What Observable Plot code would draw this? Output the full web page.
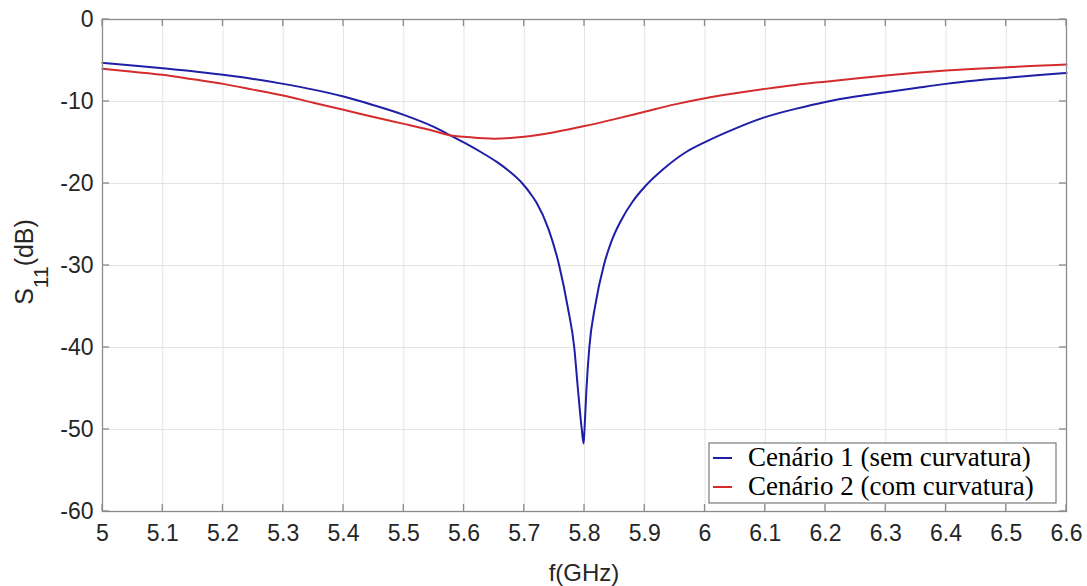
<!DOCTYPE html>
<html><head><meta charset="utf-8">
<script src="https://cdn.jsdelivr.net/npm/d3@7"></script>
<script src="https://cdn.jsdelivr.net/npm/@observablehq/plot@0.6"></script>
<style>body{margin:0;background:#fff} svg{display:block}</style>
</head><body><div id="chart"></div>
<script>
const freq1 = [5.00,5.05,5.10,5.15,5.20,5.25,5.30,5.35,5.40,5.45,5.50,5.55,5.578,5.605,5.63,5.655,5.675,5.697,5.71,5.72,5.74,5.758,5.772,5.783,5.789,5.7955,5.7985,5.800,5.8033,5.808,5.818,5.832,5.845,5.86,5.88,5.90,5.93,5.97,6.00,6.05,6.10,6.15,6.20,6.25,6.30,6.35,6.40,6.45,6.50,6.55,6.60];
const s11_1 = [-5.29,-5.6,-5.94,-6.3,-6.75,-7.25,-7.85,-8.55,-9.4,-10.45,-11.63,-13.1,-14.15,-15.2,-16.25,-17.4,-18.5,-20.0,-21.2,-22.3,-25.5,-30.0,-35.0,-40.0,-45.0,-50.0,-51.7,-50.0,-45.0,-40.0,-34.8,-30.0,-27.0,-24.6,-22.2,-20.4,-18.3,-16.1,-14.95,-13.3,-11.9,-10.9,-10.05,-9.4,-8.87,-8.35,-7.85,-7.45,-7.12,-6.8,-6.51];
const freq2 = [5.00,5.05,5.10,5.15,5.20,5.25,5.30,5.35,5.40,5.45,5.50,5.55,5.578,5.60,5.65,5.70,5.75,5.80,5.85,5.90,5.95,6.00,6.05,6.10,6.15,6.20,6.25,6.30,6.35,6.40,6.45,6.50,6.55,6.60];
const s11_2 = [-6.02,-6.38,-6.75,-7.3,-7.85,-8.55,-9.27,-10.15,-11.0,-11.9,-12.73,-13.6,-14.15,-14.3,-14.55,-14.3,-13.75,-13.0,-12.15,-11.25,-10.35,-9.6,-9.0,-8.46,-7.98,-7.58,-7.2,-6.83,-6.5,-6.22,-6.0,-5.82,-5.65,-5.49];
const xTicks = [5,5.1,5.2,5.3,5.4,5.5,5.6,5.7,5.8,5.9,6,6.1,6.2,6.3,6.4,6.5,6.6];
const yTicks = [0,-10,-20,-30,-40,-50,-60];
const seriesNames = ["Cenário 1 (sem curvatura)", "Cenário 2 (com curvatura)"];
const colors = ["#1e1ea6", "#d42c2c"];

const data1 = freq1.map((f, i) => ({f, s: s11_1[i]}));
const data2 = freq2.map((f, i) => ({f, s: s11_2[i]}));

const plot = Plot.plot({
  width: 1087, height: 586,
  marginLeft: 102, marginRight: 21, marginTop: 19, marginBottom: 75,
  x: {domain: [5, 6.6]},
  y: {domain: [-60, 0]},
  style: {fontFamily: "'Liberation Sans', Arial, sans-serif", fontSize: "23px", color: "#262626", background: "white"},
  marks: [
    Plot.gridX(xTicks, {stroke: "#e4e4e4", strokeOpacity: 1}),
    Plot.gridY(yTicks, {stroke: "#e4e4e4", strokeOpacity: 1}),
    Plot.axisX(xTicks, {tickSize: 0, tickPadding: 13, tickFormat: d => String(d), label: null, fontSize: 23, fill: "#262626"}),
    Plot.axisY(yTicks, {tickSize: 0, tickPadding: 9, tickFormat: d => String(d), label: null, fontSize: 23, fill: "#262626"}),
    Plot.line(data1, {x: "f", y: "s", stroke: colors[0], strokeWidth: 2, curve: "monotone-x"}),
    Plot.line(data2, {x: "f", y: "s", stroke: colors[1], strokeWidth: 2, curve: "monotone-x"}),
    Plot.frame({stroke: "#8a8a8a", strokeWidth: 1.3})
  ]
});
document.getElementById("chart").append(plot);

const svg = d3.select(plot);
const sx = plot.scale("x"), sy = plot.scale("y");
const x0 = sx.range[0], x1 = sx.range[1];
const yTop = sy.apply(0), yBot = sy.apply(-60);
const tl = 7;
const tg = svg.append("g").attr("stroke", "#8a8a8a").attr("stroke-width", 1.3);
xTicks.forEach(t => {
  const px = sx.apply(t);
  tg.append("line").attr("x1", px).attr("x2", px).attr("y1", yBot).attr("y2", yBot - tl);
  tg.append("line").attr("x1", px).attr("x2", px).attr("y1", yTop).attr("y2", yTop + tl);
});
yTicks.forEach(t => {
  const py = sy.apply(t);
  tg.append("line").attr("x1", x0).attr("x2", x0 + tl).attr("y1", py).attr("y2", py);
  tg.append("line").attr("x1", x1).attr("x2", x1 - tl).attr("y1", py).attr("y2", py);
});

// axis labels
svg.append("text").attr("x", (x0 + x1) / 2).attr("y", 581)
  .attr("text-anchor", "middle").attr("font-size", 24).attr("fill", "#262626")
  .attr("font-family", "'Liberation Sans', Arial, sans-serif").text("f(GHz)");
const yl = svg.append("text").attr("transform", "translate(33,262) rotate(-90)")
  .attr("text-anchor", "middle").attr("font-size", 25).attr("fill", "#262626")
  .attr("font-family", "'Liberation Sans', Arial, sans-serif");
yl.append("tspan").text("S");
yl.append("tspan").attr("font-size", 21).attr("dy", 15).text("11");
yl.append("tspan").attr("dy", -15).text("(dB)");

// legend
const lg = svg.append("g");
lg.append("rect").attr("x", 709).attr("y", 443).attr("width", 347).attr("height", 60)
  .attr("fill", "white").attr("stroke", "#7a7a7a").attr("stroke-width", 1.2);
[0, 1].forEach(i => {
  const ly = 458 + i * 29;
  lg.append("line").attr("x1", 713).attr("x2", 732).attr("y1", ly).attr("y2", ly)
    .attr("stroke", colors[i]).attr("stroke-width", 2);
  lg.append("text").attr("x", 748).attr("y", ly + 8).attr("font-size", 27)
    .attr("text-anchor", "start")
    .attr("font-family", "'Liberation Serif', 'Times New Roman', serif").attr("fill", "#000")
    .text(seriesNames[i]);
});
</script>
</body></html>
